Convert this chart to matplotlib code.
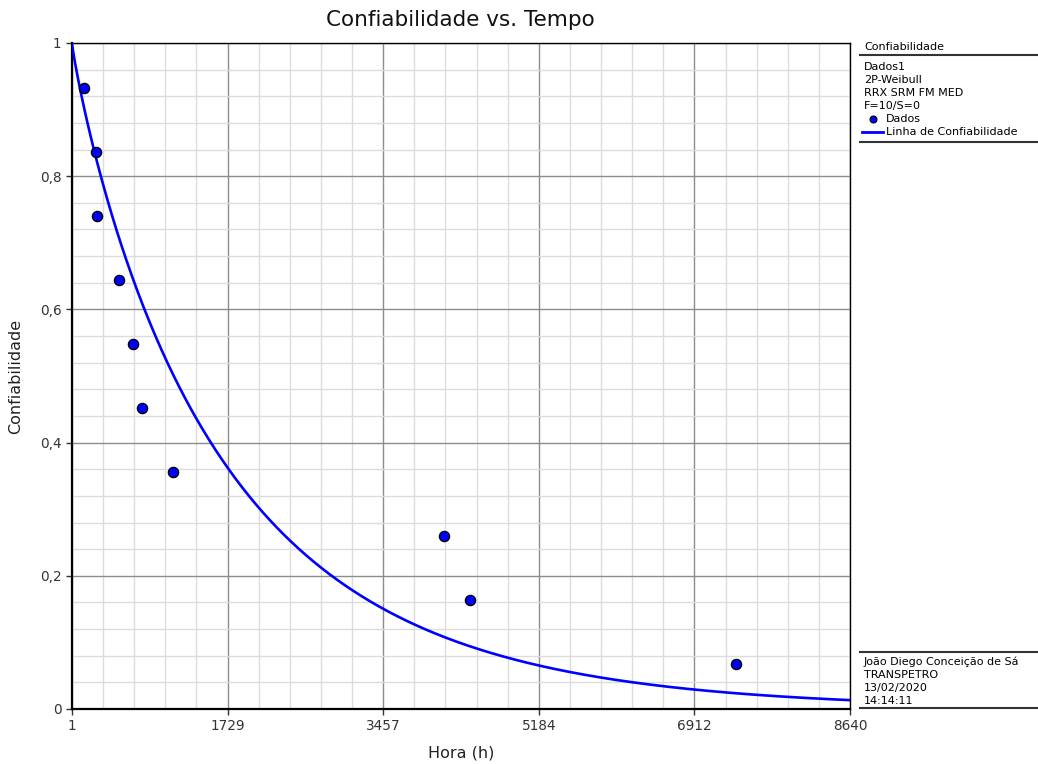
"""Confiabilidade vs. Tempo - 2P-Weibull reliability plot (RRX)."""
import numpy as np
import matplotlib.pyplot as plt
from matplotlib.lines import Line2D
from matplotlib.ticker import FixedLocator, FuncFormatter

# failure times (h) and their median-rank reliability
tempos = [137, 263, 274, 522, 677, 774, 1126, 4137, 4419, 7369]
confiab = [0.933, 0.837, 0.740, 0.644, 0.548, 0.452, 0.356, 0.260, 0.163, 0.067]

# fitted 2P-Weibull parameters
beta = 0.90
eta = 1700.0

x_ticks = [1, 1729, 3457, 5184, 6912, 8640]
y_ticks = [0, 0.2, 0.4, 0.6, 0.8, 1.0]

info_top = ["Dados1", "2P-Weibull", "RRX SRM FM MED", "F=10/S=0"]
info_bottom = ["João Diego Conceição de Sá", "TRANSPETRO", "13/02/2020", "14:14:11"]

W, H = 1038, 764


def fx(px):
    return px / W


def fy(py):
    return 1 - py / H


fig = plt.figure(figsize=(W / 100, H / 100), dpi=100)
ax = fig.add_axes([fx(72), fy(709), (850 - 72) / W, (709 - 43) / H])

t = np.linspace(1, 8640, 800)
r = np.exp(-(t / eta) ** beta)
ax.plot(t, r, color="#0000ff", lw=1.9, zorder=3)
ax.plot(tempos, confiab, "o", ms=7.3, mfc="#0000ff", mec="black", mew=1.0, zorder=4)

ax.set_xlim(1, 8640)
ax.set_ylim(0, 1)
ax.xaxis.set_major_locator(FixedLocator(x_ticks))
ax.yaxis.set_major_locator(FixedLocator(y_ticks))
# 5 minor divisions per major step, skipping the major positions
xminor = [v for i, v in enumerate(np.linspace(1, 8640, 26)) if i % 5]
yminor = [v for i, v in enumerate(np.linspace(0, 1, 26)) if i % 5]
ax.xaxis.set_minor_locator(FixedLocator(xminor))
ax.yaxis.set_minor_locator(FixedLocator(yminor))
ax.yaxis.set_major_formatter(FuncFormatter(lambda v, p: f"{v:g}".replace(".", ",")))
ax.grid(which="major", color="#8c8c8c", lw=1.0, zorder=1)
ax.grid(which="minor", color="#dcdcdc", lw=1.0, zorder=0)
ax.tick_params(which="minor", length=0)
ax.tick_params(which="major", length=4, width=1, labelsize=9.8, colors="#333333")
ax.set_axisbelow(True)
for s in ax.spines.values():
    s.set_color("black")
    s.set_linewidth(1.0)
ax.spines["left"].set_linewidth(1.6)
ax.spines["bottom"].set_linewidth(1.6)

ax.set_xlabel("Hora (h)", fontsize=11.5, color="#222222", labelpad=9)
ax.set_ylabel("Confiabilidade", fontsize=11.5, color="#222222", labelpad=12)
fig.text(fx(460), fy(20), "Confiabilidade vs. Tempo", fontsize=15.5,
         ha="center", va="center", color="#111111")

# right info panel
small = 8.0
fig.text(fx(864), fy(47), "Confiabilidade", fontsize=small, va="center")
fig.add_artist(Line2D([fx(860), fx(1038)], [fy(55), fy(55)], color="#333333", lw=1.5))
for i, s in enumerate(info_top):
    fig.text(fx(864), fy(67 + 13 * i), s, fontsize=small, va="center")
fig.add_artist(Line2D([fx(873)], [fy(119)], marker="o", ms=5, mfc="#0000ff",
                      mec="black", mew=0.8, ls="none"))
fig.text(fx(886), fy(119), "Dados", fontsize=small, va="center")
fig.add_artist(Line2D([fx(862), fx(883)], [fy(132), fy(132)], color="#0000ff", lw=2))
fig.text(fx(886), fy(132), "Linha de Confiabilidade", fontsize=small, va="center")
fig.add_artist(Line2D([fx(860), fx(1038)], [fy(142), fy(142)], color="#333333", lw=1.5))

fig.add_artist(Line2D([fx(860), fx(1038)], [fy(652), fy(652)], color="#333333", lw=1.5))
for i, s in enumerate(info_bottom):
    fig.text(fx(864), fy(662 + 13 * i), s, fontsize=small, va="center")
fig.add_artist(Line2D([fx(860), fx(1038)], [fy(708), fy(708)], color="#333333", lw=1.5))

fig.savefig("out.png", dpi=100)
